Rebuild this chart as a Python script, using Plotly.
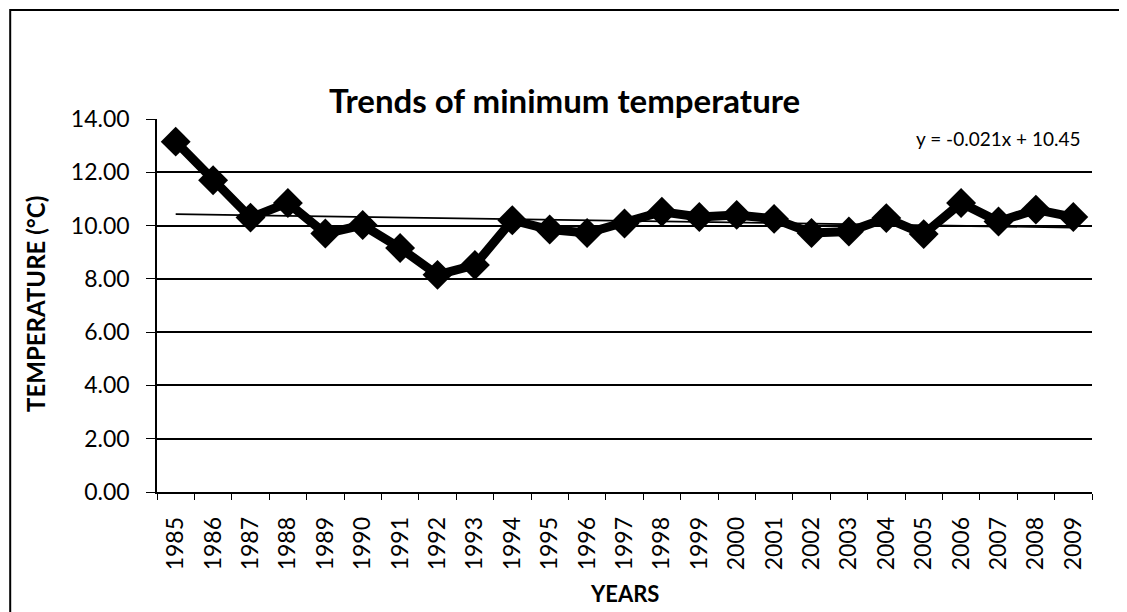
import plotly.graph_objects as go

years = [str(y) for y in range(1985, 2010)]
tmin = [13.15, 11.70, 10.30, 10.85, 9.70, 10.02, 9.16, 8.15, 8.52, 10.20,
        9.85, 9.72, 10.08, 10.52, 10.32, 10.40, 10.25, 9.72, 9.78, 10.28,
        9.68, 10.85, 10.15, 10.60, 10.32]
trend_slope = -0.021
trend_intercept = 10.45
y_ticks = [0, 2, 4, 6, 8, 10, 12, 14]
y_ticklabels = ["0.00", "2.00", "4.00", "6.00", "8.00", "10.00", "12.00", "14.00"]

trend = [trend_slope * (i + 1) + trend_intercept for i in range(len(years))]

FONT = "Lato"

fig = go.Figure()
fig.add_trace(go.Scatter(x=years, y=trend, mode="lines",
                         line=dict(color="black", width=1.8), showlegend=False,
                         hoverinfo="skip"))
fig.add_trace(go.Scatter(x=years, y=tmin, mode="lines+markers",
                         line=dict(color="black", width=9),
                         marker=dict(symbol="diamond", size=23, color="black"),
                         showlegend=False))

fig.add_annotation(text="y = -0.021x + 10.45", xref="paper", yref="paper",
                   x=0.989, y=0.949, xanchor="right", yanchor="middle", showarrow=False,
                   font=dict(family=FONT, size=19, color="black"))
fig.add_annotation(text="<b>Trends of minimum temperature</b>", xref="paper", yref="paper",
                   x=0.436, y=1.051, xanchor="center", yanchor="middle", showarrow=False,
                   font=dict(family=FONT, size=33, color="black"))
fig.add_annotation(text="<b>TEMPERATURE (°C)</b>", xref="paper", yref="paper",
                   x=-0.1305, y=0.504, xanchor="center", yanchor="middle", showarrow=False,
                   textangle=-90, font=dict(family=FONT, size=24, color="black"))
fig.add_annotation(text="<b>YEARS</b>", xref="paper", yref="paper",
                   x=0.4995, y=-0.271, xanchor="center", yanchor="middle", showarrow=False,
                   font=dict(family=FONT, size=22, color="black"))

fig.add_shape(type="rect", xref="paper", yref="paper",
              x0=-0.157, x1=1.06, y0=-0.40, y1=1.292,
              line=dict(color="black", width=2))

fig.update_layout(
    width=1119, height=604,
    margin=dict(l=149, r=35, t=111, b=120, autoexpand=False),
    paper_bgcolor="white", plot_bgcolor="white",
    font=dict(family=FONT, color="black"),
    xaxis=dict(type="category", tickangle=-90, tickfont=dict(size=23, family=FONT),
               showgrid=False, showline=True, linecolor="black", linewidth=1.5,
               ticks="outside", tickson="boundaries", ticklen=6, tickcolor="black",
               ticklabelstandoff=14,
               range=[-0.5, len(years) - 0.5], automargin=False),
    yaxis=dict(range=[0, 14], tickvals=y_ticks, ticktext=y_ticklabels,
               tickfont=dict(size=23, family=FONT),
               showgrid=True, gridcolor="black", gridwidth=1.5,
               showline=True, linecolor="black", linewidth=1.5,
               ticks="outside", ticklen=9, tickcolor="black",
               ticklabelstandoff=12,
               zeroline=False, automargin=False),
)

fig.write_html("out.html")
